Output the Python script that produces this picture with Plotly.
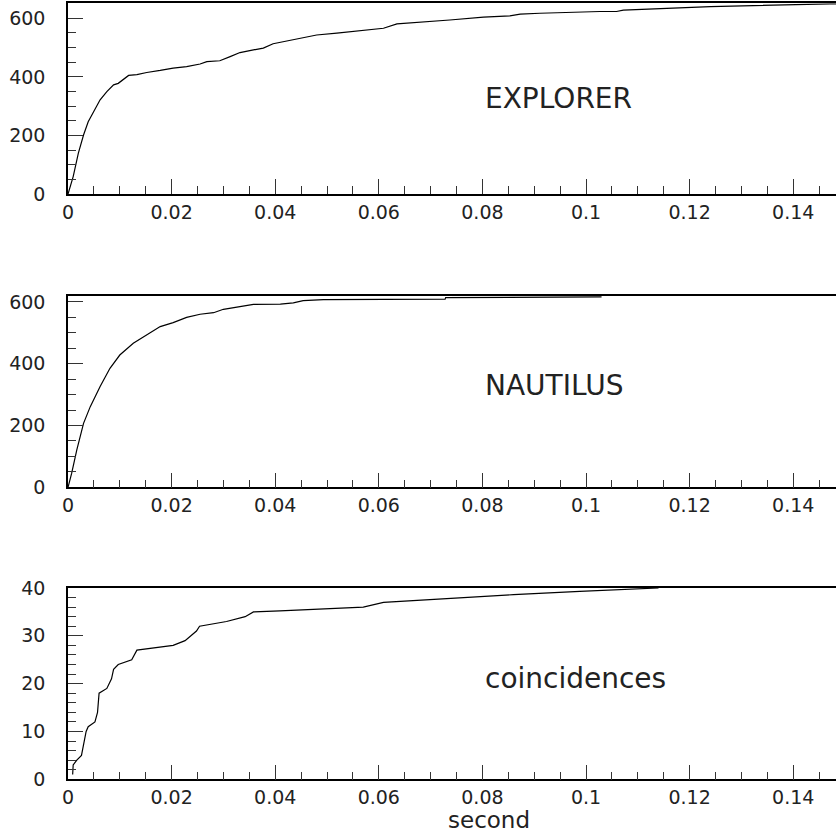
import plotly.graph_objects as go

# ---- data ----
explorer_t = [0, .001, .002, .003, .0039, .0049, .0062, .0075, .0088, .0097, .0107, .0117,
              .0133, .0152, .0178, .0203, .0229, .0255, .0268, .0293, .0313, .0332, .0358,
              .0377, .0396, .0416, .0448, .048, .0519, .0564, .0609, .0635, .0673, .0737,
              .0802, .0853, .0873, .0911, .1027, .1059, .1072, .124, .1471, .1483]
explorer_n = [0, 60, 140, 202, 247, 282, 322, 350, 373, 378, 390, 405,
              408, 415, 422, 430, 435, 444, 452, 455, 469, 483, 492,
              498, 513, 520, 532, 543, 549, 558, 566, 581, 585, 594,
              604, 608, 614, 617, 623, 623, 628, 640, 649, 649]

nautilus_t = [0, .0007, .0017, .003, .0043, .0062, .0081, .010, .0126, .0152, .0178, .0203,
              .0229, .0255, .0281, .030, .0332, .0358, .041, .0435, .0454, .0493, .0728,
              .0729, .103]
nautilus_n = [0, 45, 121, 207, 261, 326, 385, 428, 466, 493, 520, 533,
              550, 560, 565, 576, 584, 592, 593, 597, 604, 607, 609,
              614, 616]

coinc_t = [.0009, .001, .0017, .0026, .0035, .0039, .0052, .0057, .006, .0075, .0084, .0088,
           .0097, .0123, .0133, .0203, .0226, .0248, .0254, .0306, .0342, .0358, .0409, .057,
           .0609, .0731, .086, .0988, .1085, .114]
coinc_n = [1, 3, 4, 5, 10, 11, 12, 14, 18, 19, 21, 23,
           24, 25, 27, 28, 29, 31, 32, 33, 34, 35, 35.2, 36,
           37, 37.8, 38.6, 39.3, 39.7, 40]

panel_names = ["EXPLORER", "NAUTILUS", "coincidences"]
y_max = [651, 620, 40]
y_major = [200, 200, 10]
y_minor = [50, 50, 2]
x_max = 0.14826
x_title = "second"

W, H = 836, 834
FONT = "DejaVu Sans"
TXT = "#222222"

def dom(top_px, bot_px):
    return [1 - bot_px / H, 1 - top_px / H]

domains = [dom(3.3, 194.2), dom(295.7, 487.3), dom(588, 779.3)]

fig = go.Figure()
series = [(explorer_t, explorer_n), (nautilus_t, nautilus_n), (coinc_t, coinc_n)]
for i, (t, n) in enumerate(series):
    sfx = "" if i == 0 else str(i + 1)
    fig.add_trace(go.Scatter(x=t, y=n, mode="lines", xaxis="x" + sfx, yaxis="y" + sfx,
                             line=dict(color="black", width=1.2), showlegend=False,
                             hoverinfo="skip"))

layout = dict(width=W, height=H, margin=dict(l=68, r=0, t=0, b=0, pad=0),
              template="none",
              paper_bgcolor="white", plot_bgcolor="white", showlegend=False,
              font=dict(family=FONT, color=TXT))
for i in range(3):
    sfx = "" if i == 0 else str(i + 1)
    layout["xaxis" + sfx] = dict(
        domain=[0, 1], anchor="y" + sfx, range=[0, x_max], automargin=False,
        showline=True, linecolor="black", linewidth=1.5, mirror=True,
        ticks="inside", ticklen=15, tickwidth=1, tickcolor="#333",
        tick0=0, dtick=0.02, tickformat="~g",
        minor=dict(ticks="inside", ticklen=8, tickwidth=1, tickcolor="#333", dtick=0.005, tick0=0,
                   showgrid=False),
        showgrid=False, zeroline=False, ticklabelstandoff=0,
        tickfont=dict(family=FONT, size=19, color=TXT), fixedrange=True)
    layout["yaxis" + sfx] = dict(
        domain=domains[i], anchor="x" + sfx, range=[0, y_max[i]], automargin=False,
        showline=True, linecolor="black", linewidth=1.5, mirror=False,
        ticks="inside", ticklen=15, tickwidth=1, tickcolor="#333",
        tick0=0, dtick=y_major[i],
        minor=dict(ticks="inside", ticklen=8, tickwidth=1, tickcolor="#333", dtick=y_minor[i], tick0=0,
                   showgrid=False),
        showgrid=False, zeroline=False, ticklabelstandoff=17,
        tickfont=dict(family=FONT, size=19, color=TXT), fixedrange=True)

annots = []
ann_y = [328, 331, 21.1]
for i, name in enumerate(panel_names):
    sfx = "" if i == 0 else str(i + 1)
    annots.append(dict(x=0.0802, y=ann_y[i], xref="x" + sfx, yref="y" + sfx, text=name,
                       showarrow=False, xanchor="left", yanchor="middle",
                       font=dict(family=FONT, size=28, color=TXT)))
annots.append(dict(x=0.0812, y=0, xref="x3", yref="paper", text=x_title,
                   showarrow=False, xanchor="center", yanchor="bottom", borderpad=0,
                   font=dict(family=FONT, size=23, color=TXT)))
layout["annotations"] = annots

fig.update_layout(**layout)
fig.write_html("out.html", config={"displayModeBar": False})
